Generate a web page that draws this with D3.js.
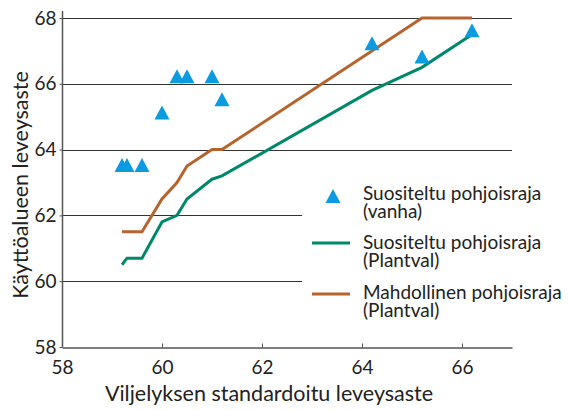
<!DOCTYPE html>
<html>
<head>
<meta charset="utf-8">
<script src="https://cdn.jsdelivr.net/npm/d3@7"></script>
<style>
  body { margin: 0; background: #fff; }
  text { font-family: Lato, "Open Sans", sans-serif; fill: #222; }
</style>
</head>
<body>
<svg id="chart" width="569" height="410"></svg>
<script>
// vanha suositus (kolmiot)
var vanhaX = [59.2, 59.3, 59.6, 60.0, 60.3, 60.5, 61.0, 61.2, 64.2, 65.2, 66.2];
var vanhaY = [63.5, 63.5, 63.5, 65.1, 66.2, 66.2, 66.2, 65.5, 67.2, 66.8, 67.6];

// Plantval suositeltu
var suosX = [59.2, 59.3, 59.6, 60.0, 60.3, 60.5, 61.0, 61.2, 64.2, 65.2, 66.2];
var suosY = [60.5, 60.7, 60.7, 61.8, 62.0, 62.5, 63.1, 63.2, 65.8, 66.5, 67.5];

// Plantval mahdollinen
var mahdX = [59.2, 59.6, 60.0, 60.3, 60.5, 61.0, 61.2, 65.2, 66.2];
var mahdY = [61.5, 61.5, 62.5, 63.0, 63.5, 64.0, 64.0, 68.0, 68.0];

var xTicks = [58, 60, 62, 64, 66];
var yTicks = [58, 60, 62, 64, 66, 68];
var gridY = [60, 62, 64, 66, 68];

var legendLabels = [
  ["Suositeltu pohjoisraja", "(vanha)"],
  ["Suositeltu pohjoisraja", "(Plantval)"],
  ["Mahdollinen pohjoisraja", "(Plantval)"]
];

var blue = "#0a9be0", green = "#00886a", brown = "#b5642e";

var svg = d3.select("#chart");

var x = d3.scaleLinear().domain([58, 67]).range([62, 512]);
var y = d3.scaleLinear().domain([58, 68]).range([347, 18]);

// gridlines
svg.append("g")
  .selectAll("line")
  .data(gridY)
  .enter().append("line")
    .attr("x1", x(58))
    .attr("x2", function(d) { return d <= 62 ? 302 : x(67); })
    .attr("y1", function(d) { return Math.round(y(d)) + 0.5; })
    .attr("y2", function(d) { return Math.round(y(d)) + 0.5; })
    .attr("stroke", "#333")
    .attr("stroke-width", 1);

// x axis
var xAxis = svg.append("g")
  .attr("transform", "translate(0," + (Math.round(y(58)) + 0.5) + ")")
  .call(d3.axisBottom(x).tickValues(xTicks).tickSizeInner(-4).tickSizeOuter(0).tickPadding(10));
xAxis.select(".domain").attr("stroke", "#555").attr("stroke-width", 1.5);
xAxis.selectAll(".tick line").attr("stroke", "#555");
xAxis.selectAll("text").attr("font-size", 19).attr("dy", "0.85em");

// y axis
var yAxis = svg.append("g")
  .attr("transform", "translate(" + (Math.round(x(58)) + 0.5) + ",0)")
  .call(d3.axisLeft(y).tickValues(yTicks).tickSizeInner(3).tickSizeOuter(0).tickPadding(3));
yAxis.select(".domain").attr("stroke", "#555").attr("stroke-width", 1.5)
  .attr("d", "M0," + y(58) + "V11");
yAxis.selectAll(".tick line").attr("stroke", "#555");
yAxis.selectAll("text").attr("font-size", 19);

// axis titles
svg.append("text")
  .attr("x", 269)
  .attr("y", 401)
  .attr("text-anchor", "middle")
  .attr("font-size", 21.5)
  .text("Viljelyksen standardoitu leveysaste");

svg.append("text")
  .attr("transform", "translate(28,185) rotate(-90)")
  .attr("text-anchor", "middle")
  .attr("font-size", 21.5)
  .text("Käyttöalueen leveysaste");

// lines
var line = d3.line()
  .x(function(d) { return x(d[0]); })
  .y(function(d) { return y(d[1]); });

svg.append("path")
  .datum(d3.zip(mahdX, mahdY))
  .attr("d", line)
  .attr("fill", "none")
  .attr("stroke", brown)
  .attr("stroke-width", 3);

svg.append("path")
  .datum(d3.zip(suosX, suosY))
  .attr("d", line)
  .attr("fill", "none")
  .attr("stroke", green)
  .attr("stroke-width", 3);

// triangles
function tri(cx, cy) {
  return "M" + cx + "," + (cy - 8) + "L" + (cx + 7.5) + "," + (cy + 6) + "L" + (cx - 7.5) + "," + (cy + 6) + "Z";
}

svg.append("g")
  .selectAll("path")
  .data(d3.zip(vanhaX, vanhaY))
  .enter().append("path")
    .attr("d", function(d) { return tri(x(d[0]), y(d[1])); })
    .attr("fill", blue);

// legend
var legY = [200, 249, 299];
var leg = svg.append("g");
leg.append("path").attr("d", tri(333, legY[0] - 3)).attr("fill", blue);
leg.append("line").attr("x1", 312).attr("x2", 350).attr("y1", legY[1] - 6).attr("y2", legY[1] - 6)
  .attr("stroke", green).attr("stroke-width", 3);
leg.append("line").attr("x1", 312).attr("x2", 350).attr("y1", legY[2] - 5).attr("y2", legY[2] - 5)
  .attr("stroke", brown).attr("stroke-width", 3);

legendLabels.forEach(function(l, i) {
  leg.append("text")
    .attr("x", 363)
    .attr("y", legY[i])
    .attr("font-size", 19)
    .text(l[0]);
  leg.append("text")
    .attr("x", 363)
    .attr("y", legY[i] + 18)
    .attr("font-size", 19)
    .text(l[1]);
});
</script>
</body>
</html>
